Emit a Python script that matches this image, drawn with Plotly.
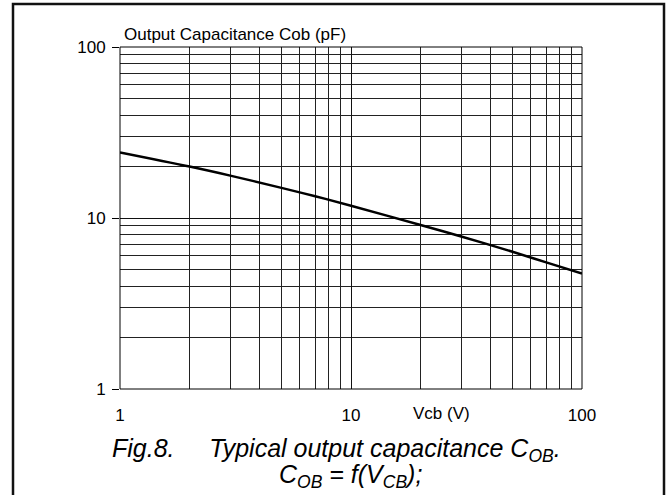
import plotly.graph_objects as go

# Data
vcb = [1, 2, 3, 5, 7, 10, 20, 30, 50, 70, 100]
cob = [24.2, 20.0, 17.7, 15.0, 13.4, 11.8, 9.1, 7.8, 6.35, 5.5, 4.74]

major_vals = [1, 10, 100]
major_text = ["1", "10", "100"]
minor_vals = [2, 3, 4, 5, 6, 7, 8, 9, 20, 30, 40, 50, 60, 70, 80, 90]

FONT = "Liberation Sans, Arial, sans-serif"

fig = go.Figure()
fig.add_trace(go.Scatter(x=vcb, y=cob, mode="lines",
                         line=dict(color="black", width=2.5, shape="spline", smoothing=1),
                         showlegend=False, hoverinfo="skip"))

axis_common = dict(
    type="log", range=[0, 2],
    tickmode="array", tickvals=major_vals, ticktext=major_text,
    showgrid=True, gridcolor="#111", gridwidth=1,
    showline=False, zeroline=False,
    tickfont=dict(family=FONT, size=17, color="black"),
    minor=dict(tickmode="array", tickvals=minor_vals, showgrid=True,
               gridcolor="#222", gridwidth=1, ticks=""),
)

fig.update_xaxes(**axis_common, ticks="", ticklabelstandoff=14)
fig.update_yaxes(**axis_common, ticks="outside", ticklen=7, tickcolor="black",
                 tickwidth=1, ticklabelstandoff=3)

fig.update_layout(
    width=668, height=495,
    margin=dict(l=120, r=86, t=47, b=106),
    paper_bgcolor="white", plot_bgcolor="white",
    font=dict(family=FONT, color="black"),
)

W = 462.0  # plot width px
H = 342.0  # plot height px


def px(x):
    return (x - 120) / W


def py(y):
    return (389 - y) / H


# plot border
fig.add_shape(type="rect", xref="paper", yref="paper", x0=0, x1=1, y0=0, y1=1,
              line=dict(color="black", width=1))

# outer frame
fig.add_shape(type="rect", xref="paper", yref="paper",
              x0=px(13), x1=px(664), y0=py(520), y1=py(4),
              line=dict(color="#111", width=2.5))

fig.add_annotation(text="Output Capacitance Cob (pF)", xref="paper", yref="paper",
                   x=px(122), y=py(35), xanchor="left", yanchor="middle", showarrow=False,
                   font=dict(family=FONT, size=17, color="black"))
fig.add_annotation(text="Vcb (V)", xref="paper", yref="paper",
                   x=px(441), y=py(413), xanchor="center", yanchor="middle", showarrow=False,
                   font=dict(family=FONT, size=17, color="black"))
fig.add_annotation(text="<i>Fig.8.&nbsp;&nbsp;&nbsp;&nbsp; Typical output capacitance C<sub>OB</sub>.</i>",
                   xref="paper", yref="paper",
                   x=px(336), y=py(450), xanchor="center", yanchor="middle", showarrow=False,
                   font=dict(family=FONT, size=25, color="black"))
fig.add_annotation(text="<i>C<sub>OB</sub>&nbsp;= f(V<sub>CB</sub>);</i>",
                   xref="paper", yref="paper",
                   x=px(350), y=py(476), xanchor="center", yanchor="middle", showarrow=False,
                   font=dict(family=FONT, size=25, color="black"))

fig.write_html("out.html", post_script="document.body.style.margin='0';",
               config={"displayModeBar": False})
